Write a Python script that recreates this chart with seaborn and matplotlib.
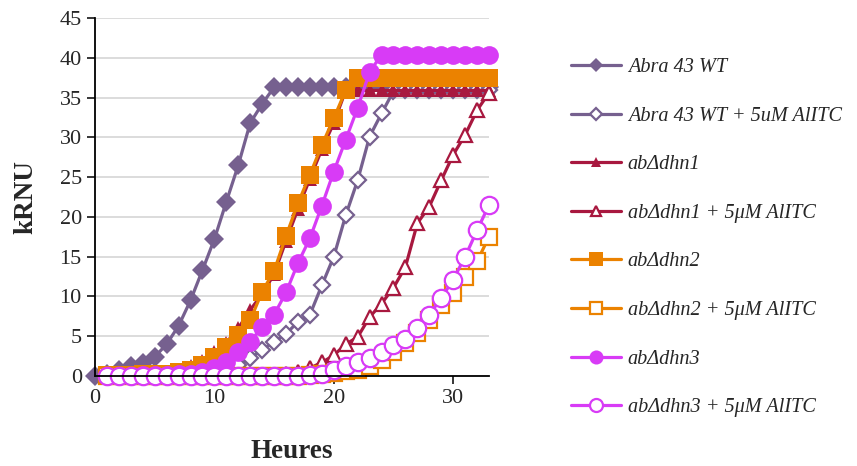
import matplotlib
matplotlib.use("Agg")
import matplotlib.pyplot as plt
import seaborn as sns

# hours
hours_wt = list(range(0, 34))
hours = list(range(1, 34))

# kRNU values
wt = [0.0, 0.3, 0.8, 1.2, 1.6, 2.4, 4.0, 6.3, 9.5, 13.3, 17.2, 21.9, 26.5, 31.8, 34.2,
      36.3, 36.3, 36.3, 36.3, 36.3, 36.3, 36.3, 36.3, 36.3, 36.3, 36.3, 36.3, 36.3,
      36.3, 36.3, 36.3, 36.3, 36.3, 36.3]
wt_aitc = [0.0, 0.0, 0.0, 0.0, 0.1, 0.1, 0.1, 0.2, 0.2, 0.4, 0.8, 1.4, 2.2, 3.3,
           4.3, 5.3, 6.8, 7.7, 11.4, 15.0, 20.2, 24.6, 30.1, 33.0, 35.8, 36.0, 36.0,
           36.0, 36.0, 36.0, 36.0, 36.0, 36.0]
dhn1 = [0.0, 0.0, 0.1, 0.1, 0.2, 0.4, 0.6, 1.2, 1.9, 3.0, 4.2, 6.0, 8.3, 10.3, 12.8,
        17.0, 21.0, 24.8, 28.5, 31.8, 35.9, 35.9, 35.9, 35.9, 35.9, 35.9, 35.9, 35.9,
        35.9, 35.9, 35.9, 35.9, 35.9]
dhn1_aitc = [0.0, 0.0, 0.0, 0.0, 0.0, 0.0, 0.0, 0.0, 0.0, 0.0, 0.0, 0.0, 0.0, 0.0,
             0.1, 0.2, 0.5, 1.0, 1.7, 2.6, 4.0, 4.9, 7.4, 9.1, 11.1, 13.7, 19.2, 21.3,
             24.6, 27.8, 30.3, 33.4, 35.6]
dhn2 = [0.1, 0.1, 0.1, 0.2, 0.2, 0.3, 0.5, 0.8, 1.4, 2.4, 3.7, 5.2, 7.0, 10.6, 13.2,
        17.6, 21.7, 25.3, 29.0, 32.4, 35.9, 37.4, 37.4, 37.4, 37.4, 37.4, 37.4, 37.4,
        37.4, 37.4, 37.4, 37.4, 37.4]
dhn2_aitc = [0.0, 0.0, 0.0, 0.0, 0.0, 0.0, 0.0, 0.0, 0.0, 0.0, 0.0, 0.0, 0.0, 0.0,
             0.0, 0.0, 0.0, 0.1, 0.2, 0.4, 0.6, 0.8, 1.2, 2.0, 3.0, 4.1, 5.4, 7.0,
             8.9, 10.4, 12.5, 14.4, 17.5]
dhn3 = [0.0, 0.0, 0.0, 0.1, 0.1, 0.1, 0.2, 0.3, 0.5, 1.0, 1.8, 3.0, 4.3, 6.2, 7.7,
        10.5, 14.2, 17.3, 21.4, 25.7, 29.7, 33.7, 38.2, 40.4, 40.4, 40.4, 40.4, 40.4,
        40.4, 40.4, 40.4, 40.4, 40.4]
dhn3_aitc = [0.0, 0.0, 0.0, 0.0, 0.0, 0.0, 0.0, 0.0, 0.0, 0.0, 0.0, 0.0, 0.0, 0.0,
             0.0, 0.0, 0.0, 0.1, 0.3, 0.7, 1.2, 1.7, 2.2, 3.0, 3.9, 4.7, 6.0, 7.7,
             9.8, 12.1, 15.0, 18.3, 21.5]

labels = ["Abra 43 WT", "Abra 43 WT + 5uM AlITC",
          "ab\u0394dhn1", "ab\u0394dhn1 + 5\u03bcM AlITC",
          "ab\u0394dhn2", "ab\u0394dhn2 + 5\u03bcM AlITC",
          "ab\u0394dhn3", "ab\u0394dhn3 + 5\u03bcM AlITC"]

purple = "#76608F"
red = "#A8183F"
orange = "#EB8200"
magenta = "#D83BF6"

series = [
    (hours_wt, wt, purple, "D", True, 10),
    (hours, wt_aitc, purple, "D", False, 8.5),
    (hours, dhn1, red, "^", True, 10),
    (hours, dhn1_aitc, red, "^", False, 10.5),
    (hours, dhn2, orange, "s", True, 12.5),
    (hours, dhn2_aitc, orange, "s", False, 11),
    (hours, dhn3, magenta, "o", True, 13.5),
    (hours, dhn3_aitc, magenta, "o", False, 12.5),
]

sns.set_style("white")
plt.rcParams['font.family'] = ['Liberation Serif', 'DejaVu Serif']

fig = plt.figure(figsize=(8.57, 4.66), dpi=100)
ax = fig.add_axes([95 / 857, 1 - 376 / 466, (489 - 95) / 857, (376 - 18) / 466])

for (x, y, col, mk, filled, ms), lab in zip(series, labels):
    sns.lineplot(x=x, y=y, ax=ax, color=col, marker=mk, markersize=ms,
                 markerfacecolor=col if filled else "white",
                 markeredgecolor=col, markeredgewidth=1.6 if not filled else 0,
                 linewidth=2.3, label=lab, clip_on=False)

ax.set_xlim(0, 33)
ax.set_ylim(0, 45)
ax.set_xticks([0, 10, 20, 30])
ax.set_yticks(range(0, 50, 5))
ax.yaxis.grid(True, color="#D9D9D9", linewidth=1.3)
ax.set_axisbelow(True)
for s in ["top", "right"]:
    ax.spines[s].set_visible(False)
for s in ["left", "bottom"]:
    ax.spines[s].set_color("black")
    ax.spines[s].set_linewidth(1.3)
ax.tick_params(axis="both", direction="out", length=6, width=1.3, labelsize=16,
               left=True, bottom=True)
ax.set_xlabel("Heures", fontsize=19.5, fontweight="bold", labelpad=22)
ax.set_ylabel("kRNU", fontsize=19.5, fontweight="bold", labelpad=15)

handles, labs = ax.get_legend_handles_labels()
ax.get_legend().remove()
fig.legend(handles, labs, loc="upper left", bbox_to_anchor=(0.645, 0.915),
           frameon=False, prop={"style": "italic", "size": 14.6},
           handlelength=2.45, handletextpad=0.35, labelspacing=1.45,
           markerscale=0.75)

fig.savefig("out.png", dpi=100)
